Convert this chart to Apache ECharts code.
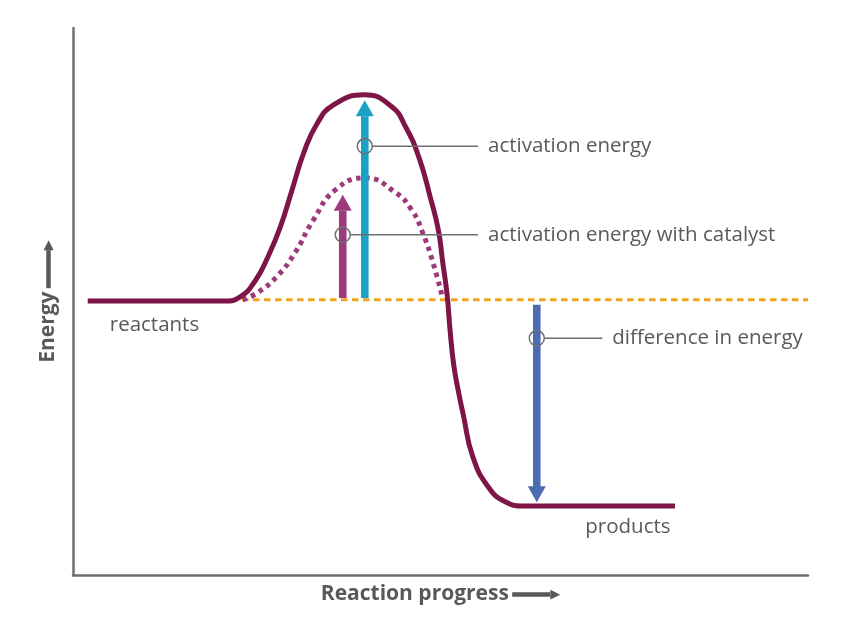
<!DOCTYPE html>
<html>
<head>
<meta charset="utf-8">
<title>Energy diagram</title>
<script src="https://cdn.jsdelivr.net/npm/echarts@6/dist/echarts.min.js"></script>
<style>
  html, body { margin: 0; padding: 0; background: #fff; }
  #chart { width: 845px; height: 633px; }
</style>
</head>
<body>
<div id="chart"></div>
<script>
// reaction progress (0-100) and energy (0-100)
const progress = [2.0, 17.3, 20.7, 22.7, 24.8, 26.5, 28.2, 29.8, 31.4, 33.2, 35.4, 39.6,
  43.3, 45.3, 47.1, 48.6, 49.7, 50.3, 50.9, 51.3, 51.8, 52.4, 53.1, 54.4, 56.5, 58.8, 61.5,
  64.2, 81.9]
const energy = [50.1, 50.1, 50.1, 50.8, 53.8, 58.1, 63.6, 70.4, 77.2, 82.5, 85.9, 87.8,
  85.7, 81.8, 76.2, 69.1, 63.1, 57.2, 51.2, 44.8, 38.4, 33.8, 29.3, 21.6, 16.1, 13.4, 12.6,
  12.6, 12.6]

const catalystProgress = [23.1, 25.2, 27.9, 30.2, 32.7, 35.7, 39.7, 43.8, 46.1, 47.6,
  49.0, 50.3]
const catalystEnergy = [50.3, 51.7, 54.8, 58.9, 64.9, 70.4, 72.6, 70.0, 66.7, 62.5,
  57.0, 50.6]

const reactantLevel = 50.3
const levelStart = 23.0
const levelEnd = 100

// arrows: x, from, to
const arrowX = [39.7, 36.7, 63.1]
const arrowFrom = [50.8, 50.8, 49.4]
const arrowTo = [86.8, 69.5, 13.3]

// callouts
const noteX = [39.7, 36.7, 63.1]
const noteY = [78.4, 62.2, 43.3]
const noteEndX = [55.1, 55.1, 72.0]
const noteText = ['activation energy', 'activation energy with catalyst', 'difference in energy']

const stateNames = ['reactants', 'products']
const stateX = [5.0, 69.7]
const stateY = [45.7, 8.8]

const arrowColors = ['#1ca0c4', '#9c3a7c', '#4d6cb0']
const textColor = '#58595b'
const axisColor = '#6d6e71'
const font = '"Open Sans", "Noto Sans", sans-serif'

const chart = echarts.init(document.getElementById('chart'))

const nameRich = {
  t: { fontFamily: font, fontSize: 21, fontWeight: 'bold', color: textColor },
  b: { width: 38, height: 4.5, backgroundColor: textColor, verticalAlign: 'middle' },
  h: { fontFamily: 'DejaVu Sans', fontSize: 13, color: textColor, verticalAlign: 'middle' }
}

function textItem(x, y, text) {
  return {
    type: 'text',
    x,
    y,
    style: {
      text,
      fontFamily: font,
      fontSize: 20.5,
      fill: textColor,
      align: 'left',
      verticalAlign: 'middle'
    }
  }
}

const option = {
  animation: false,
  grid: { left: 73, right: 37, top: 28, bottom: 58 },
  xAxis: {
    type: 'value',
    min: 0,
    max: 100,
    name: '{t|Reaction progress} {b|}{h|▶}',
    nameLocation: 'middle',
    nameGap: 9,
    nameTextStyle: { rich: nameRich },
    axisLine: { show: true, onZero: false, lineStyle: { color: axisColor, width: 2.5 } },
    axisTick: { show: false },
    axisLabel: { show: false },
    splitLine: { show: false }
  },
  yAxis: {
    type: 'value',
    min: 0,
    max: 100,
    name: '{t|Energy} {b|}{h|▶}',
    nameLocation: 'middle',
    nameGap: 14,
    nameRotate: 90,
    nameTextStyle: { rich: nameRich },
    axisLine: { show: true, onZero: false, lineStyle: { color: axisColor, width: 2.5 } },
    axisTick: { show: false },
    axisLabel: { show: false },
    splitLine: { show: false }
  },
  series: [
    {
      name: 'level',
      type: 'line',
      data: [[levelStart, reactantLevel], [levelEnd, reactantLevel]],
      symbol: 'none',
      lineStyle: { color: '#f0a51c', width: 3, type: [6.5, 4.5] },
      z: 1
    },
    {
      name: 'catalyst',
      type: 'line',
      data: catalystProgress.map((x, i) => [x, catalystEnergy[i]]),
      symbol: 'none',
      smooth: 0.5,
      lineStyle: { color: '#9c3a7c', width: 5, type: [4.5, 4.5] },
      z: 2
    },
    {
      name: 'uncatalysed',
      type: 'line',
      data: progress.map((x, i) => [x, energy[i]]),
      symbol: 'none',
      smooth: 0.5,
      lineStyle: { color: '#7d1547', width: 5 },
      z: 3
    },
    {
      name: 'arrows',
      type: 'custom',
      data: arrowX.map((x, i) => [x, arrowFrom[i], arrowTo[i]]),
      renderItem(params, api) {
        const x = api.value(0)
        const p0 = api.coord([x, api.value(1)])
        const p1 = api.coord([x, api.value(2)])
        const dir = p1[1] < p0[1] ? -1 : 1
        const headLen = 16
        const headHalf = 9
        const shaftHalf = 3.8
        const base = p1[1] - dir * headLen
        const color = arrowColors[params.dataIndex]
        return {
          type: 'group',
          children: [
            {
              type: 'rect',
              shape: {
                x: p0[0] - shaftHalf,
                y: Math.min(p0[1], base),
                width: shaftHalf * 2,
                height: Math.abs(base - p0[1]) + 1
              },
              style: { fill: color }
            },
            {
              type: 'polygon',
              shape: { points: [[p1[0], p1[1]], [p1[0] - headHalf, base], [p1[0] + headHalf, base]] },
              style: { fill: color }
            }
          ]
        }
      },
      z: 4
    },
    {
      name: 'notes',
      type: 'custom',
      data: noteX.map((x, i) => [x, noteY[i], noteEndX[i]]),
      renderItem(params, api) {
        const c = api.coord([api.value(0), api.value(1)])
        const e = api.coord([api.value(2), api.value(1)])
        const r = 7.5
        return {
          type: 'group',
          children: [
            {
              type: 'circle',
              shape: { cx: c[0], cy: c[1], r },
              style: { fill: 'none', stroke: axisColor, lineWidth: 1.5 }
            },
            {
              type: 'line',
              shape: { x1: c[0] + r, y1: c[1], x2: e[0], y2: e[1] },
              style: { stroke: axisColor, lineWidth: 1.5 }
            },
            textItem(e[0] + 10, e[1], noteText[params.dataIndex])
          ]
        }
      },
      z: 5
    },
    {
      name: 'states',
      type: 'custom',
      data: stateX.map((x, i) => [x, stateY[i]]),
      renderItem(params, api) {
        const p = api.coord([api.value(0), api.value(1)])
        return textItem(p[0], p[1], stateNames[params.dataIndex])
      },
      z: 5
    }
  ]
}

chart.setOption(option)
</script>
</body>
</html>
